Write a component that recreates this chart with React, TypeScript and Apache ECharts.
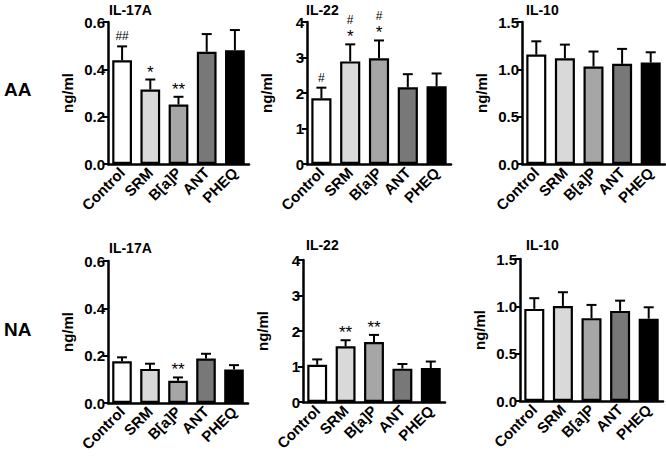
import React, { useEffect, useRef } from "react";
import * as echarts from "echarts";

const categories = ["Control", "SRM", "B[a]P", "ANT", "PHEQ"];

const aaIL17A = [0.438, 0.315, 0.251, 0.474, 0.481];
const aaIL17AErr = [0.059, 0.042, 0.033, 0.075, 0.085];
const aaIL17AStars = ["", "*", "**", "", ""];
const aaIL17AHash = ["##", "", "", "", ""];

const aaIL22 = [1.85, 2.89, 2.98, 2.16, 2.19];
const aaIL22Err = [0.3, 0.48, 0.5, 0.37, 0.36];
const aaIL22Stars = ["", "*", "*", "", ""];
const aaIL22Hash = ["#", "#", "#", "", ""];

const aaIL10 = [1.156, 1.117, 1.03, 1.058, 1.072];
const aaIL10Err = [0.14, 0.144, 0.158, 0.158, 0.108];
const aaIL10Stars = ["", "", "", "", ""];
const aaIL10Hash = ["", "", "", "", ""];

const naIL17A = [0.176, 0.144, 0.094, 0.188, 0.142];
const naIL17AErr = [0.017, 0.022, 0.014, 0.02, 0.018];
const naIL17AStars = ["", "", "**", "", ""];
const naIL17AHash = ["", "", "", "", ""];

const naIL22 = [1.05, 1.57, 1.69, 0.94, 0.955];
const naIL22Err = [0.15, 0.17, 0.2, 0.13, 0.185];
const naIL22Stars = ["", "**", "**", "", ""];
const naIL22Hash = ["", "", "", "", ""];

const naIL10 = [0.973, 1.004, 0.875, 0.952, 0.87];
const naIL10Err = [0.113, 0.145, 0.14, 0.108, 0.12];
const naIL10Stars = ["", "", "", "", ""];
const naIL10Hash = ["", "", "", "", ""];

const barColors = ["#ffffff", "#d9d9d9", "#a6a6a6", "#787878", "#000000"];
const FONT = "'Liberation Sans', Arial, sans-serif";

const panels = [
  { title: "IL-17A", vals: aaIL17A, errs: aaIL17AErr, stars: aaIL17AStars, hash: aaIL17AHash, max: 0.6, interval: 0.2, dec: 1,
    grid: { left: 108, top: 22, width: 141, height: 142 }, tpos: [109, 3] },
  { title: "IL-22", vals: aaIL22, errs: aaIL22Err, stars: aaIL22Stars, hash: aaIL22Hash, max: 4, interval: 1, dec: 0,
    grid: { left: 307, top: 22, width: 144, height: 142 }, tpos: [306, 3] },
  { title: "IL-10", vals: aaIL10, errs: aaIL10Err, stars: aaIL10Stars, hash: aaIL10Hash, max: 1.5, interval: 0.5, dec: 1,
    grid: { left: 522, top: 22, width: 143, height: 142 }, tpos: [526, 3] },
  { title: "IL-17A", vals: naIL17A, errs: naIL17AErr, stars: naIL17AStars, hash: naIL17AHash, max: 0.6, interval: 0.2, dec: 1,
    grid: { left: 108, top: 261, width: 140, height: 142 }, tpos: [109, 241] },
  { title: "IL-22", vals: naIL22, errs: naIL22Err, stars: naIL22Stars, hash: naIL22Hash, max: 4, interval: 1, dec: 0,
    grid: { left: 303, top: 260, width: 142, height: 142 }, tpos: [306, 238] },
  { title: "IL-10", vals: naIL10, errs: naIL10Err, stars: naIL10Stars, hash: naIL10Hash, max: 1.5, interval: 0.5, dec: 1,
    grid: { left: 520, top: 259, width: 143, height: 142 }, tpos: [526, 238] },
];

export default function App() {
  const ref = useRef<HTMLDivElement>(null);
  useEffect(() => {
    if (!ref.current) return;
    const chart = echarts.init(ref.current, null, { renderer: "svg" });
    const grids: any[] = [];
    const xAxes: any[] = [];
    const yAxes: any[] = [];
    const series: any[] = [];
    const titles: any[] = [];
    panels.forEach((p, k) => {
      grids.push({ ...p.grid, containLabel: false });
      titles.push({
        text: p.title,
        left: p.tpos[0],
        top: p.tpos[1],
        padding: 0,
        textStyle: { fontFamily: FONT, fontSize: 14, fontWeight: "bold", color: "#000" },
      });
      xAxes.push({
        type: "category",
        gridIndex: k,
        data: categories,
        axisLine: { lineStyle: { color: "#000", width: 2.5 } },
        axisTick: { alignWithLabel: true, length: 5, lineStyle: { color: "#000", width: 2 } },
        axisLabel: {
          interval: 0,
          rotate: 45,
          margin: 6,
          fontFamily: FONT,
          fontSize: 15,
          fontWeight: "bold",
          color: "#000",
        },
      });
      yAxes.push({
        type: "value",
        gridIndex: k,
        min: 0,
        max: p.max,
        interval: p.interval,
        name: "ng/ml",
        nameLocation: "middle",
        nameGap: 33,
        nameTextStyle: { fontFamily: FONT, fontSize: 15, fontWeight: "bold", color: "#000" },
        splitLine: { show: false },
        axisLine: { show: true, lineStyle: { color: "#000", width: 2.5 } },
        axisTick: { show: true, length: 5, lineStyle: { color: "#000", width: 2 } },
        axisLabel: {
          margin: 3,
          fontFamily: FONT,
          fontSize: 15,
          fontWeight: "bold",
          color: "#000",
          formatter: (v: number) => v.toFixed(p.dec),
        },
      });
      series.push({
        type: "bar",
        xAxisIndex: k,
        yAxisIndex: k,
        barCategoryGap: "30%",
        data: p.vals.map((v, i) => ({
          value: v,
          itemStyle: { color: barColors[i], borderColor: "#000", borderWidth: 2.2 },
        })),
      });
      series.push({
        type: "custom",
        xAxisIndex: k,
        yAxisIndex: k,
        z: 5,
        data: p.vals.map((v, i) => [i, v, p.errs[i]]),
        renderItem: (params: any, api: any) => {
          const i = api.value(0);
          const v = api.value(1);
          const e = api.value(2);
          const base = api.coord([i, v]);
          const top = api.coord([i, v + e]);
          const star = p.stars[params.dataIndex];
          const hash = p.hash[params.dataIndex];
          const children: any[] = [
            {
              type: "line",
              shape: { x1: base[0], y1: base[1], x2: top[0], y2: top[1] },
              style: { stroke: "#000", lineWidth: 2 },
            },
            {
              type: "line",
              shape: { x1: top[0] - 5, y1: top[1], x2: top[0] + 5, y2: top[1] },
              style: { stroke: "#000", lineWidth: 2 },
            },
          ];
          if (star) {
            children.push({
              type: "text",
              x: top[0],
              y: top[1] + 1,
              style: {
                text: star,
                fontFamily: FONT,
                fontSize: 17,
                lineHeight: 17,
                fill: "#000",
                align: "center",
                verticalAlign: "bottom",
              },
            });
          }
          if (hash) {
            children.push({
              type: "text",
              x: top[0],
              y: top[1] - (star ? 18 : 4),
              style: {
                text: hash,
                fontFamily: FONT,
                fontSize: 12,
                lineHeight: 12,
                fill: "#000",
                align: "center",
                verticalAlign: "bottom",
              },
            });
          }
          return { type: "group", children };
        },
      });
    });
    chart.setOption({
      animation: false,
      backgroundColor: "#fff",
      title: titles,
      grid: grids,
      xAxis: xAxes,
      yAxis: yAxes,
      series,
      graphic: [
        {
          type: "text",
          left: 4,
          top: 80,
          style: { text: "AA", fontFamily: FONT, fontSize: 19, fontWeight: "bold", fill: "#000" },
        },
        {
          type: "text",
          left: 4,
          top: 320,
          style: { text: "NA", fontFamily: FONT, fontSize: 19, fontWeight: "bold", fill: "#000" },
        },
      ],
    });
    return () => chart.dispose();
  }, []);
  return (
    <div
      ref={ref}
      style={{ position: "fixed", left: 0, top: 0, width: 666, height: 460, background: "#fff" }}
    />
  );
}
